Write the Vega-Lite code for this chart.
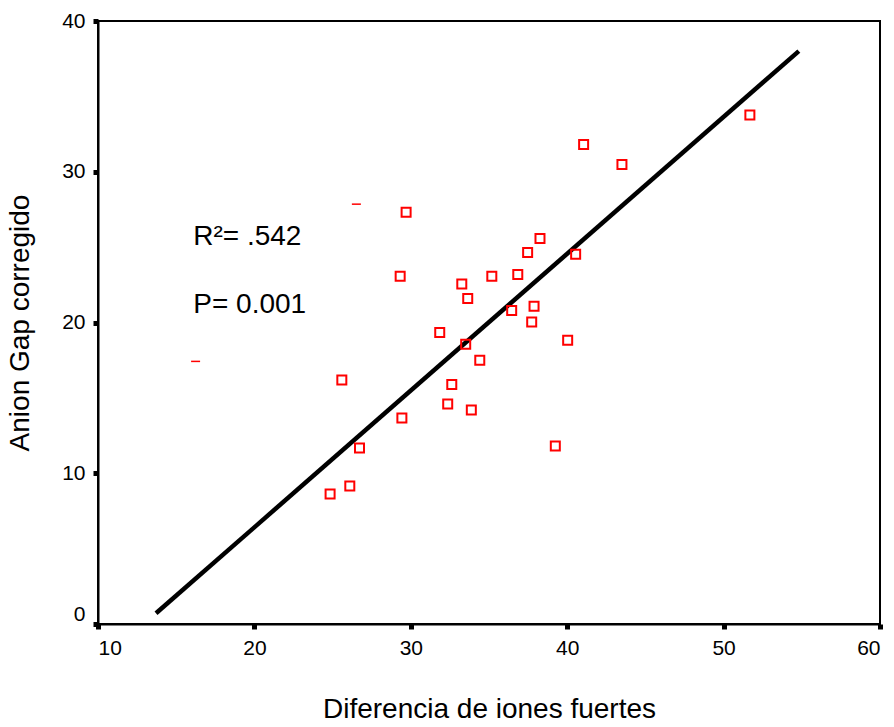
{
  "$schema": "https://vega.github.io/schema/vega-lite/v6.json",
  "width": 782,
  "height": 603,
  "autosize": {"type": "none"},
  "padding": {"left": 98, "top": 21, "right": 14, "bottom": 103},
  "background": "white",
  "config": {
    "view": {"stroke": "black", "strokeWidth": 2},
    "font": "Liberation Sans"
  },
  "datasets": {
    "points": [
      {"dif": 24.84, "ag": 8.62},
      {"dif": 26.10, "ag": 9.15},
      {"dif": 26.72, "ag": 11.67},
      {"dif": 25.59, "ag": 16.18},
      {"dif": 29.43, "ag": 13.66},
      {"dif": 29.32, "ag": 23.06},
      {"dif": 29.70, "ag": 27.32},
      {"dif": 31.85, "ag": 19.34},
      {"dif": 32.36, "ag": 14.59},
      {"dif": 32.62, "ag": 15.88},
      {"dif": 33.87, "ag": 14.19},
      {"dif": 33.51, "ag": 18.55},
      {"dif": 34.41, "ag": 17.49},
      {"dif": 33.26, "ag": 22.55},
      {"dif": 33.64, "ag": 21.60},
      {"dif": 35.18, "ag": 23.06},
      {"dif": 36.84, "ag": 23.19},
      {"dif": 36.45, "ag": 20.80},
      {"dif": 37.47, "ag": 24.65},
      {"dif": 38.26, "ag": 25.58},
      {"dif": 37.88, "ag": 21.07},
      {"dif": 37.73, "ag": 20.03},
      {"dif": 40.03, "ag": 18.83},
      {"dif": 39.24, "ag": 11.80},
      {"dif": 40.54, "ag": 24.52},
      {"dif": 41.05, "ag": 31.81},
      {"dif": 43.50, "ag": 30.48},
      {"dif": 51.68, "ag": 33.77}
    ],
    "dashes": [
      {"dif": 26.52, "ag": 27.85},
      {"dif": 16.24, "ag": 17.42}
    ],
    "fit": [
      {"dif": 13.71, "ag": 0.71},
      {"dif": 54.81, "ag": 38.0}
    ],
    "labels": [
      {"dif": 16.09, "ag": 25.13, "txt": "R²= .542"},
      {"dif": 16.09, "ag": 20.64, "txt": "P= 0.001"}
    ]
  },
  "layer": [
    {
      "data": {"name": "fit"},
      "mark": {"type": "line", "color": "black", "strokeWidth": 4.5, "clip": true},
      "encoding": {
        "x": {
          "field": "dif", "type": "quantitative",
          "scale": {"domain": [10, 60], "nice": false, "zero": false},
          "axis": {
            "values": [10, 20, 30, 40, 50, 60],
            "title": "Diferencia de iones fuertes",
            "titlePadding": 37,
            "grid": false,
            "domainColor": "black", "domainWidth": 2,
            "tickColor": "black", "tickSize": 5, "tickWidth": 5,
            "labelColor": "black", "labelFont": "Liberation Sans", "labelFontSize": 21, "labelPadding": 8,
            "titleFont": "Liberation Sans", "titleFontSize": 28, "titleFontWeight": "normal", "titleColor": "black"
          }
        },
        "y": {
          "field": "ag", "type": "quantitative",
          "scale": {"domain": [0, 40], "nice": false, "zero": false},
          "axis": {
            "values": [0, 10, 20, 30, 40],
            "title": "Anion Gap corregido",
            "titlePadding": 27,
            "grid": false,
            "domainColor": "black", "domainWidth": 2,
            "tickColor": "black", "tickSize": 5, "tickWidth": 5,
            "labelColor": "black", "labelFont": "Liberation Sans", "labelFontSize": 21, "labelPadding": 8,
            "titleFont": "Liberation Sans", "titleFontSize": 28, "titleFontWeight": "normal", "titleColor": "black",
            "labelBaseline": {"condition": {"test": "datum.value == 0", "value": "bottom"}, "value": "middle"}
          }
        }
      }
    },
    {
      "data": {"name": "points"},
      "mark": {"type": "point", "shape": "square", "filled": false, "color": "#ff0000", "size": 81, "strokeWidth": 2, "opacity": 1},
      "encoding": {
        "x": {"field": "dif", "type": "quantitative"},
        "y": {"field": "ag", "type": "quantitative"}
      }
    },
    {
      "data": {"name": "dashes"},
      "mark": {"type": "point", "shape": "stroke", "filled": false, "color": "#ff0000", "size": 81, "strokeWidth": 1.5, "opacity": 1},
      "encoding": {
        "x": {"field": "dif", "type": "quantitative"},
        "y": {"field": "ag", "type": "quantitative"}
      }
    },
    {
      "data": {"name": "labels"},
      "mark": {"type": "text", "align": "left", "baseline": "alphabetic", "fontSize": 28, "font": "Liberation Sans", "color": "black"},
      "encoding": {
        "x": {"field": "dif", "type": "quantitative"},
        "y": {"field": "ag", "type": "quantitative"},
        "text": {"field": "txt"}
      }
    }
  ]
}
